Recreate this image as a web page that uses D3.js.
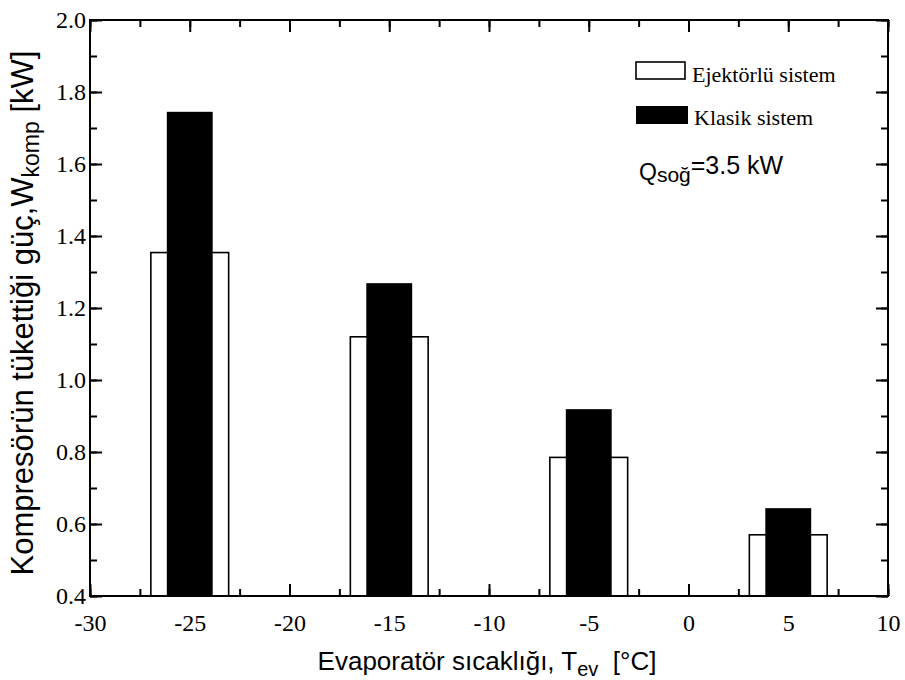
<!DOCTYPE html>
<html>
<head>
<meta charset="utf-8">
<script src="https://cdn.jsdelivr.net/npm/d3@7/dist/d3.min.js"></script>
<style>
  html, body { margin: 0; padding: 0; background: #fff; }
  svg { display: block; }
</style>
</head>
<body>
<script>
// Evaporator temperatures (°C) and compressor power (kW)
const temperatures = [-25, -15, -5, 5];
const ejectorPower = [1.354, 1.12, 0.785, 0.570];
const classicPower = [1.745, 1.269, 0.919, 0.644];
const xTicks = [-30, -25, -20, -15, -10, -5, 0, 5, 10];
const yTicks = [0.4, 0.6, 0.8, 1.0, 1.2, 1.4, 1.6, 1.8, 2.0];
const seriesNames = ["Ejektörlü sistem", "Klasik sistem"];

(function () {
  const W = 905, H = 680;
  const m = { left: 90, right: 17, top: 20, bottom: 84 };
  const svg = d3.select("body").append("svg").attr("width", W).attr("height", H);

  const x = d3.scaleLinear().domain([-30, 10]).range([m.left, W - m.right]);
  const y = d3.scaleLinear().domain([0.4, 2.0]).range([H - m.bottom, m.top]);

  const serif = "Liberation Serif, Times New Roman, serif";
  const sans = "Liberation Sans, Arial, sans-serif";

  // Bars: wide outlined bars for the ejector system, narrow solid bars for the classic one
  const wideHalf = 1.95, narrowHalf = 1.15;
  svg.append("g").selectAll("rect").data(temperatures).join("rect")
    .attr("x", (d) => x(d - wideHalf))
    .attr("width", (d) => x(d + wideHalf) - x(d - wideHalf))
    .attr("y", (d, i) => y(ejectorPower[i]))
    .attr("height", (d, i) => y(0.4) - y(ejectorPower[i]))
    .attr("fill", "#fff").attr("stroke", "#000").attr("stroke-width", 1.6);

  svg.append("g").selectAll("rect").data(temperatures).join("rect")
    .attr("x", (d) => x(d - narrowHalf))
    .attr("width", (d) => x(d + narrowHalf) - x(d - narrowHalf))
    .attr("y", (d, i) => y(classicPower[i]))
    .attr("height", (d, i) => y(0.4) - y(classicPower[i]))
    .attr("fill", "#000");

  // Axes: ticks point inward on all four sides, minor ticks between majors
  const xMinor = d3.range(-30, 10.01, 2.5);
  const yMinor = d3.range(0.4, 2.001, 0.1);
  const majorLen = 12, minorLen = 7;

  function addAxis(axis, tx, ty) {
    const g = svg.append("g").attr("transform", `translate(${tx},${ty})`).call(axis);
    g.attr("font-family", serif).attr("font-size", 24);
    g.select(".domain").remove();
    g.selectAll("line").attr("stroke", "#000").attr("stroke-width", 2);
    g.selectAll("text")
      .style("font-family", serif).style("font-size", "24px").attr("fill", "#000");
    return g;
  }

  addAxis(d3.axisBottom(x).tickValues(xMinor).tickSize(-minorLen).tickFormat(""), 0, y(0.4));
  addAxis(d3.axisBottom(x).tickValues(xTicks).tickSize(-majorLen).tickPadding(18)
    .tickFormat((d) => String(d)), 0, y(0.4));

  addAxis(d3.axisTop(x).tickValues(xMinor).tickSize(-minorLen).tickFormat(""), 0, y(2.0));
  addAxis(d3.axisTop(x).tickValues(xTicks).tickSize(-majorLen).tickFormat(""), 0, y(2.0));

  addAxis(d3.axisLeft(y).tickValues(yMinor).tickSize(-minorLen).tickFormat(""), x(-30), 0);
  addAxis(d3.axisLeft(y).tickValues(yTicks).tickSize(-majorLen).tickPadding(4)
    .tickFormat(d3.format(".1f")), x(-30), 0);

  addAxis(d3.axisRight(y).tickValues(yMinor).tickSize(-minorLen).tickFormat(""), x(10), 0);
  addAxis(d3.axisRight(y).tickValues(yTicks).tickSize(-majorLen).tickFormat(""), x(10), 0);

  // Frame
  svg.append("rect")
    .attr("x", x(-30)).attr("y", y(2.0))
    .attr("width", x(10) - x(-30)).attr("height", y(0.4) - y(2.0))
    .attr("fill", "none").attr("stroke", "#000").attr("stroke-width", 2);

  // Axis titles
  const xt = svg.append("text").attr("x", 487).attr("y", 670)
    .attr("text-anchor", "middle").style("font-family", sans).style("font-size", "26px").attr("fill", "#000");
  xt.append("tspan").text("Evaporatör sıcaklığı, T");
  xt.append("tspan").style("font-size", "20px").attr("dy", 6).text("ev");
  xt.append("tspan").attr("dy", -6).text("\u00a0 [°C]");

  const yt = svg.append("text")
    .attr("transform", "translate(33,313) rotate(-90)")
    .attr("text-anchor", "middle").style("font-family", sans).style("font-size", "31px").attr("fill", "#000");
  yt.append("tspan").text("Kompresörün tükettiği güç,W");
  yt.append("tspan").style("font-size", "23px").attr("dy", 6).text("komp");
  yt.append("tspan").attr("dy", -6).text(" [kW]");

  // Legend
  const legend = svg.append("g");
  legend.append("rect").attr("x", 636).attr("y", 62).attr("width", 49).attr("height", 17)
    .attr("fill", "#fff").attr("stroke", "#000").attr("stroke-width", 1.6);
  legend.append("text").attr("x", 692).attr("y", 82)
    .style("font-family", serif).style("font-size", "22px").attr("fill", "#000").text(seriesNames[0]);
  legend.append("rect").attr("x", 636).attr("y", 106).attr("width", 52).attr("height", 18)
    .attr("fill", "#000");
  legend.append("text").attr("x", 694).attr("y", 125)
    .style("font-family", serif).style("font-size", "22px").attr("fill", "#000").text(seriesNames[1]);

  // Cooling load annotation
  const q = svg.append("text").attr("x", 639).attr("y", 180)
    .style("font-family", sans).style("font-size", "23px").attr("fill", "#000");
  q.append("tspan").text("Q");
  q.append("tspan").style("font-size", "21px").attr("dy", 2).text("soğ");
  q.append("tspan").style("font-size", "25px").attr("dy", -8).text("=3.5 kW");
})();
</script>
</body>
</html>
